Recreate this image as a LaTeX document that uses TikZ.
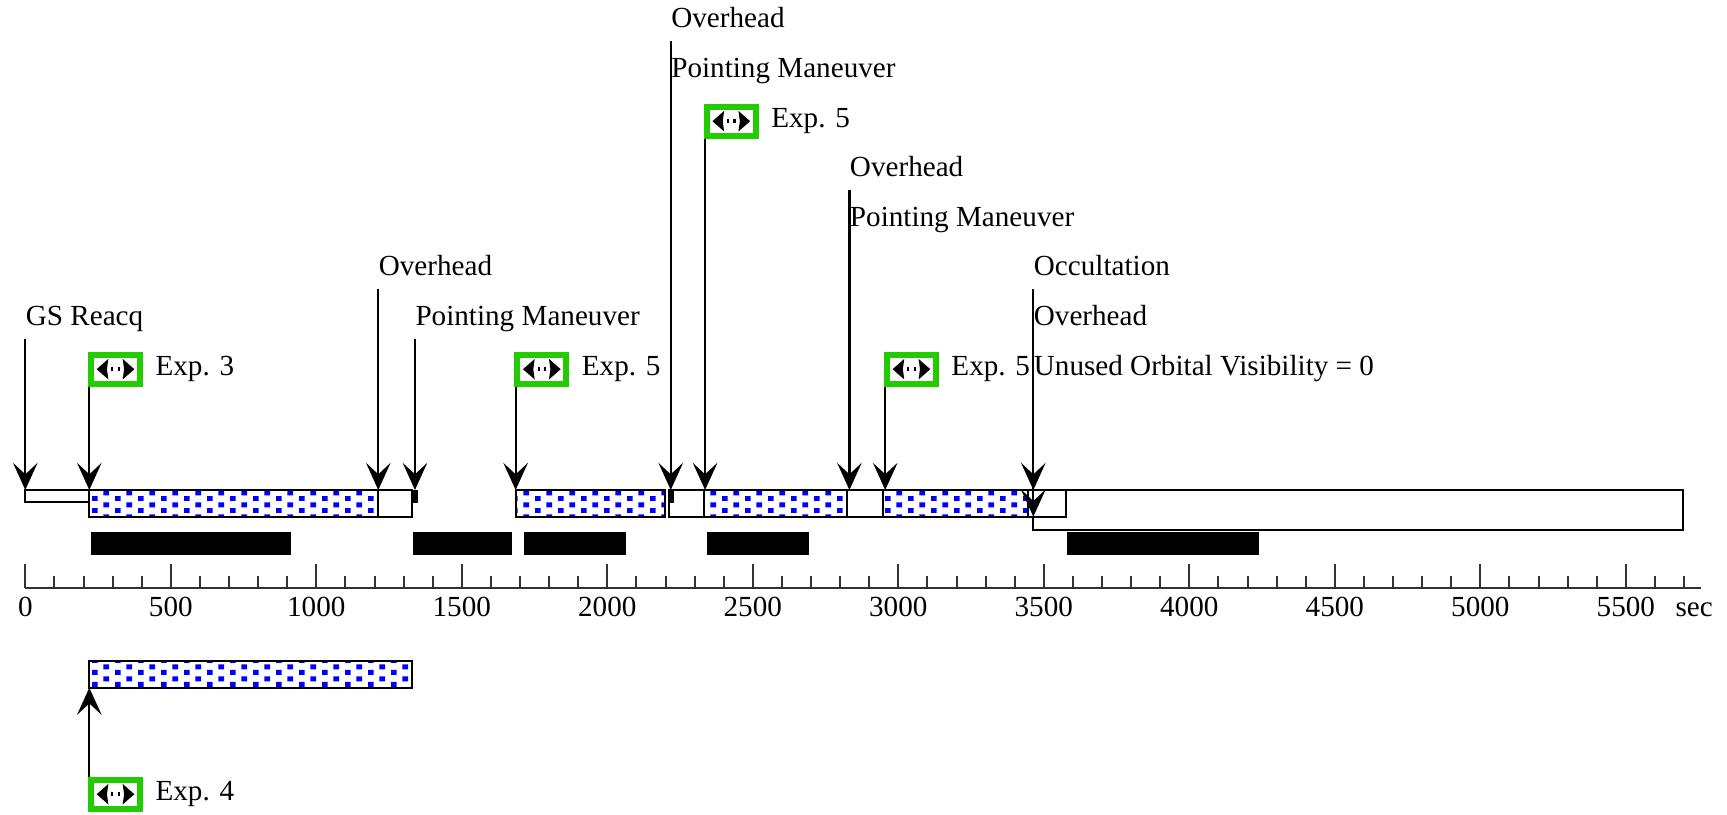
\documentclass[tikz,border=0pt]{standalone}
\usepackage{fontspec}
\setmainfont{Liberation Serif}
\usepackage{tikz}
\usetikzlibrary{arrows.meta, patterns.meta, calc}

\definecolor{flaggreen}{RGB}{34,204,0}
\definecolor{axisgray}{RGB}{51,51,51}

% time in sec -> x in px
\newcommand{\tx}[1]{25.3+0.291*#1}

\tikzdeclarepattern{
	name=bluedots,
	type=uncolored,
	bounding box={(0pt,0pt) and (8.16pt,4.06pt)},
	tile size={(8.16pt,4.06pt)},
	code={
		\fill (0pt,0pt) rectangle (2.05pt,1.8pt);
		\fill (4.08pt,2.03pt) rectangle (6.13pt,3.83pt);
	}
}

\begin{document}
\begin{tikzpicture}[x=0.35pt, y=-0.35pt, font=\fontsize{10.2}{12}\selectfont,
	event/.style={anchor=base west, inner sep=0pt, text depth=4.45pt},
	marker/.style={line width=0.8pt, -{Stealth[length=9.5pt, width=8.6pt, inset=4pt]}},
	idle/.style={draw, line width=0.7pt, fill=white},
	busy/.style={draw, line width=0.7pt, pattern=bluedots, pattern color=blue},
	tick/.style={draw=axisgray, line width=0.7pt},
	flag/.style={draw=flaggreen, line width=2.1pt, fill=white, inner sep=0pt,
		minimum width=17.15pt, minimum height=10.15pt, anchor=south west,
		path picture={
			\coordinate (ic) at (path picture bounding box.center);
			\fill[black] ([xshift=-6.6pt]ic) -- ++(4.1pt,3.6pt) -- ++(-0.5pt,-3.6pt) -- ++(0.5pt,-3.6pt) -- cycle;
			\fill[black] ([xshift=6.6pt]ic) -- ++(-4.1pt,3.6pt) -- ++(0.5pt,-3.6pt) -- ++(-0.5pt,-3.6pt) -- cycle;
			\fill[black] ([xshift=-1.5pt,yshift=-0.65pt]ic) rectangle ++(0.75pt,1.3pt);
			\fill[black] ([xshift=0.75pt,yshift=-0.65pt]ic) rectangle ++(0.75pt,1.3pt);
		}},
	flagtext/.style={anchor=mid west, inner sep=0pt}]

	\useasboundingbox (0,0) rectangle (1727,814);

	% schedule bar
	\draw[idle] ({\tx{0}},490) rectangle ({\tx{220}},501.7);
	\draw[busy] ({\tx{220}},490) rectangle ({\tx{1213}},516.7);
	\draw[idle] ({\tx{1213}},490) rectangle ({\tx{1328}},516.7);
	\fill ({\tx{1328}},490) rectangle ({\tx{1351}},502.7);
	\draw[busy] ({\tx{1685}},490) rectangle ({\tx{2199}},516.7);
	\draw[idle] ({\tx{2213}},490) rectangle ({\tx{2333}},516.7);
	\fill ({\tx{2213}},490) rectangle ({\tx{2229}},502.7);
	\draw[busy] ({\tx{2333}},490) rectangle ({\tx{2825}},516.7);
	\draw[idle] ({\tx{2825}},490) rectangle ({\tx{2949}},516.7);
	\draw[busy] ({\tx{2949}},490) rectangle ({\tx{3447}},516.7);
	\draw[idle] ({\tx{3464}},490) rectangle ({\tx{5697}},530.3);
	\draw[idle] ({\tx{3447}},490) rectangle ({\tx{3575}},516.7);

	% visibility
	\fill ({\tx{226}},532) rectangle ({\tx{913}},554.7);
	\fill ({\tx{1332}},532) rectangle ({\tx{1671}},554.7);
	\fill ({\tx{1714}},532) rectangle ({\tx{2064}},554.7);
	\fill ({\tx{2343}},532) rectangle ({\tx{2694}},554.7);
	\fill ({\tx{3580}},532) rectangle ({\tx{4240}},554.7);

	% time axis
	\draw[tick] ({\tx{0}},587.7) -- ({\tx{5757}},587.7);
	\foreach \s in {0,100,...,5700}
		\draw[tick] ({\tx{\s}},576.3) -- ({\tx{\s}},587.7);
	\foreach \s in {0,500,...,5500} {
		\draw[tick] ({\tx{\s}},564.3) -- ({\tx{\s}},587.7);
		\node[anchor=base, inner sep=0pt] (ax\s) at ({\tx{\s}},616) {\s};
	}
	\node[anchor=base west, inner sep=0pt] (unit) at (1675,616.7) {sec};

	% bar top points
	\coordinate (E1) at ({\tx{0}},490);
	\coordinate (E2) at ({\tx{220}},490);
	\coordinate (E3) at ({\tx{1213}},490);
	\coordinate (E4) at ({\tx{1339}},490);
	\coordinate (E5) at ({\tx{1685}},490);
	\coordinate (E6) at ({\tx{2218}},490);
	\coordinate (E7) at ({\tx{2336}},490);
	\coordinate (E8) at ({\tx{2832}},490);
	\coordinate (E9) at ({\tx{2955}},490);
	\coordinate (E10) at ({\tx{3464}},490);
	\coordinate (E10b) at ({\tx{3464}},516.7);

	% events
	\node[event] (nGS) at ({\tx{0}},325.4) {GS Reacq};
	\draw[marker] (nGS.south -| E1) -- (E1);

	\node[flag] (fE3) at ({\tx{220}-1.3},386.7) {};
	\node[flagtext] (xE3) at ([xshift=4.2pt]fE3.east) {Exp. 3};
	\draw[marker] (fE3.south -| E2) -- (E2);

	\node[event] (nOv1) at ({\tx{1213}},275.8) {Overhead};
	\draw[marker] (nOv1.south -| E3) -- (E3);

	\node[event] (nPM1) at ({\tx{1339}},325.4) {Pointing Maneuver};
	\draw[marker] (nPM1.south -| E4) -- (E4);

	\node[flag] (fE5a) at ({\tx{1685}-1.3},386.7) {};
	\node[flagtext] (xE5a) at ([xshift=4.2pt]fE5a.east) {Exp. 5};
	\draw[marker] (fE5a.south -| E5) -- (E5);

	\node[event] (nOv2) at ({\tx{2218}},27.8) {Overhead};
	\node[event] (nPM2) at ({\tx{2218}},77.4) {Pointing Maneuver};
	\draw[marker] (nOv2.south -| E6) -- (E6);

	\node[flag] (fE5b) at ({\tx{2336}-1.3},138.7) {};
	\node[flagtext] (xE5b) at ([xshift=4.2pt]fE5b.east) {Exp. 5};
	\draw[marker] (fE5b.south -| E7) -- (E7);

	\node[event] (nOv3) at ({\tx{2832}},176.6) {Overhead};
	\node[event] (nPM3) at ({\tx{2832}},226.2) {Pointing Maneuver};
	\draw[marker] (nOv3.south -| E8) -- (E8);

	\node[flag] (fE5c) at ({\tx{2955}-1.3},386.7) {};
	\node[flagtext] (xE5c) at ([xshift=4.2pt]fE5c.east) {Exp. 5};
	\draw[marker] (fE5c.south -| E9) -- (E9);

	\node[event] (nOcc) at ({\tx{3464}},275.8) {Occultation};
	\node[event] (nOv4) at ({\tx{3464}},325.4) {Overhead};
	\node[event] (nUOV) at ({\tx{3464}},375) {Unused Orbital Visibility = 0};
	\draw[marker] (nOcc.south -| E10) -- (E10b);
	\draw[marker] (nOv4.south -| E10) -- (E10);

	% second row
	\draw[busy] ({\tx{220}},660.7) rectangle ({\tx{1328}},687.7);
	\coordinate (B1) at ({\tx{220}},687.7);
	\node[flag, anchor=north west] (fE4) at ({\tx{220}-1.3},776.7) {};
	\node[flagtext] (xE4) at ([xshift=4.2pt]fE4.east) {Exp. 4};
	\draw[marker] (fE4.north -| B1) -- (B1);

\end{tikzpicture}
\end{document}
